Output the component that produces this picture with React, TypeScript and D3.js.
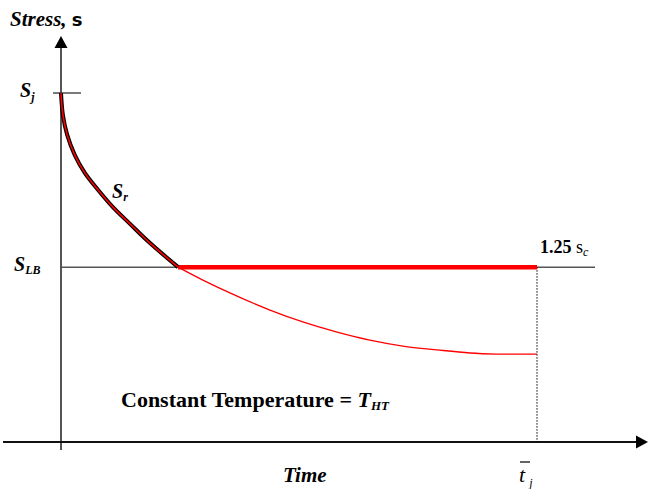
import React from "react";
import * as d3 from "d3";

// Stress relaxation at constant temperature (schematic)
const decayTime = [0, 0.04, 0.13, 0.29, 0.5, 0.78, 1.09, 1.45, 1.87, 2.46];
const decayStress = [1.0, 0.937, 0.88, 0.822, 0.771, 0.722, 0.673, 0.625, 0.57, 0.501];
const relaxTime = [2.46, 2.98, 3.7, 4.39, 5.08, 5.8, 6.49, 7.18, 7.9, 8.59, 9.16, 10];
const relaxStress = [0.501, 0.464, 0.418, 0.378, 0.344, 0.315, 0.292, 0.275, 0.264, 0.255, 0.252, 0.252];
const stressJ = 1.0;
const stressLB = 0.501;
const tKnee = 2.46;
const tJ = 10;

const W = 648;
const H = 489;
const SERIF = "Liberation Serif, Times New Roman, DejaVu Serif, serif";

export default function App() {
  const x = d3.scaleLinear().domain([0, 10]).range([61, 537]);
  const y = d3.scaleLinear().domain([0, 1]).range([442, 93]);

  const decay = d3
    .line<number>()
    .x((_, i) => x(decayTime[i]))
    .y((d) => y(d))
    .curve(d3.curveCatmullRom)(decayStress) as string;
  const relax = d3
    .line<number>()
    .x((_, i) => x(relaxTime[i]))
    .y((d) => y(d))
    .curve(d3.curveCatmullRom)(relaxStress) as string;

  const x0 = x(0);
  const yAxisY = y(0);
  const yLB = y(stressLB);
  const yJ = y(stressJ);
  const xJ = x(tJ);
  const ts: React.CSSProperties = { fontFamily: SERIF };

  return (
    <svg
      width={W}
      height={H}
      style={{ position: "absolute", left: 0, top: 0, background: "#fff" }}
    >
      {/* axes */}
      <line x1={x0} x2={x0} y1={46} y2={450} stroke="#555" strokeWidth={2} />
      <path d={`M${x0},36 L${x0 - 6.5},48 L${x0 + 6.5},48 Z`} fill="#000" />
      <line x1={3} x2={638} y1={yAxisY} y2={yAxisY} stroke="#111" strokeWidth={2} />
      <path d={`M648,${yAxisY} L636,${yAxisY - 6.5} L636,${yAxisY + 6.5} Z`} fill="#000" />

      {/* S_j tick */}
      <line x1={53} x2={81} y1={yJ} y2={yJ} stroke="#333" strokeWidth={1.3} />
      {/* S_LB line */}
      <line x1={x0} x2={595} y1={yLB} y2={yLB} stroke="#555" strokeWidth={1.5} />
      {/* dotted vertical at t_j */}
      <line
        x1={xJ}
        x2={xJ}
        y1={yLB}
        y2={yAxisY}
        stroke="#000"
        strokeWidth={1}
        strokeDasharray="1.5,1.5"
      />

      {/* lower relaxation curve */}
      <path d={relax} fill="none" stroke="#ff0000" strokeWidth={1.3} />
      {/* thick red at S_LB */}
      <line x1={x(tKnee)} x2={xJ} y1={yLB} y2={yLB} stroke="#ff0000" strokeWidth={4.5} />
      {/* decay curve: black outline + red core */}
      <path d={decay} fill="none" stroke="#000" strokeWidth={4} />
      <path d={decay} fill="none" stroke="#ff0000" strokeWidth={1.6} />

      {/* labels */}
      <text x={10} y={26} fontSize={21} fontWeight="bold" fontStyle="italic" style={ts}>
        Stress,{" "}
        <tspan fontStyle="normal" style={{ fontFamily: "DejaVu Sans, sans-serif" }} fontWeight="900" fontSize={18}>
          s
        </tspan>
      </text>
      <text x={20} y={yJ + 4} fontSize={20} fontWeight="bold" fontStyle="italic" style={ts}>
        S<tspan fontSize={12} dy={4}>j</tspan>
      </text>
      <text x={14} y={yLB + 4} fontSize={20} fontWeight="bold" fontStyle="italic" style={ts}>
        S<tspan fontSize={12} dy={3}>LB</tspan>
      </text>
      <text x={112} y={198} fontSize={20} fontWeight="bold" fontStyle="italic" style={ts}>
        S<tspan fontSize={12} dy={3}>r</tspan>
      </text>
      <text x={540} y={253} fontSize={18} fontWeight="bold" style={ts}>
        1.25{" "}
        <tspan fontWeight="normal">s</tspan>
        <tspan fontWeight="normal" fontStyle="italic" fontSize={12} dy={3}>c</tspan>
      </text>
      <text x={121} y={407} fontSize={22} fontWeight="bold" style={ts}>
        Constant Temperature ={" "}
        <tspan fontStyle="italic">T</tspan>
        <tspan fontStyle="italic" fontSize={13} dy={3}>HT</tspan>
      </text>
      <text x={283} y={482} fontSize={21} fontWeight="bold" fontStyle="italic" style={ts}>
        Time
      </text>
      <text x={519} y={482} fontSize={22} fontStyle="italic" style={ts}>
        t<tspan fontSize={12} dx={4} dy={5}>j</tspan>
      </text>
      <line x1={520} x2={530} y1={462} y2={462} stroke="#000" strokeWidth={1.2} />
    </svg>
  );
}
